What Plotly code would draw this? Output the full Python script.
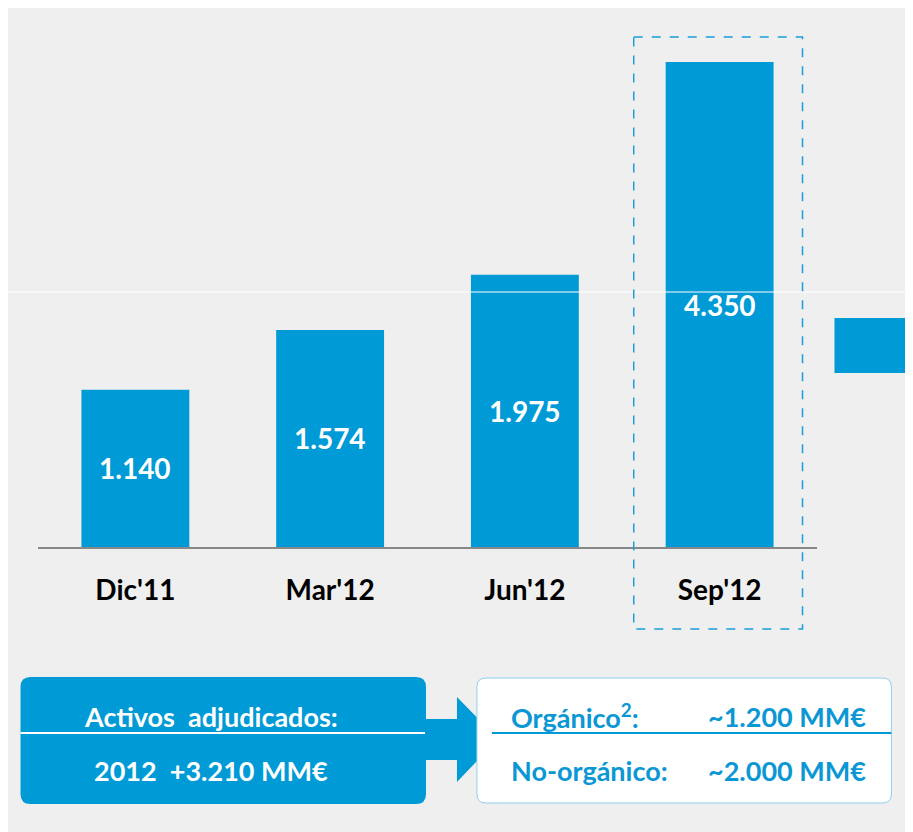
import plotly.graph_objects as go

# Datos
periodos = ["Dic'11", "Mar'12", "Jun'12", "Sep'12"]
valores = [1140, 1574, 1975, 4350]
eje_max = 3517  # eje cortado: la barra de Sep'12 se sale de escala

caja_izq = ["Activos  adjudicados:", "2012  +3.210 MM€"]
caja_der_etiquetas = ["Orgánico<sup>2</sup>:", "No-orgánico:"]
caja_der_valores = ["~1.200 MM€", "~2.000 MM€"]

AZUL = "#009ad6"
GRIS = "#efefef"
FUENTE = "Lato"

# el navegador deja 8 px de margen alrededor de la figura
OFF = 8
# zona del gráfico en píxeles de la página (para convertir a coordenadas 'paper')
L, R, T, B = 37.5, 817.5, 62, 547
W, H = R - L, B - T


def px(x):
    return (x - L) / W


def py(y):
    return (B - y) / H


def rect_redondeado(x0, y0, x1, y1, r):
    pts = [
        ("M", x0 + r, y0), ("L", x1 - r, y0), ("Q", x1, y0, x1, y0 + r),
        ("L", x1, y1 - r), ("Q", x1, y1, x1 - r, y1), ("L", x0 + r, y1),
        ("Q", x0, y1, x0, y1 - r), ("L", x0, y0 + r), ("Q", x0, y0, x0 + r, y0),
    ]
    s = ""
    for p in pts:
        cmd, coords = p[0], p[1:]
        conv = []
        for i in range(0, len(coords), 2):
            conv.append(f"{px(coords[i]):.5f},{py(coords[i + 1]):.5f}")
        s += cmd + " " + " ".join(conv) + " "
    return s + "Z"


def ruta(puntos):
    s = "M " + " L ".join(f"{px(x):.5f},{py(y):.5f}" for x, y in puntos)
    return s + " Z"


fig = go.Figure()

fig.add_trace(go.Bar(
    x=periodos,
    y=valores,
    marker=dict(color=AZUL, line=dict(width=0)),
    cliponaxis=True,
    hoverinfo="skip",
))

shapes = []
# línea blanca horizontal
shapes.append(dict(type="line", xref="paper", yref="paper", layer="above",
                   x0=px(0), x1=px(913), y0=py(292), y1=py(292),
                   line=dict(color="white", width=1)))
# recuadro punteado Sep'12
shapes.append(dict(type="rect", xref="paper", yref="paper",
                   x0=px(634), x1=px(803), y0=py(37), y1=py(629),
                   line=dict(color="#1a9fdb", width=1.5, dash="dash")))
# bloque azul recortado a la derecha
shapes.append(dict(type="rect", xref="paper", yref="paper",
                   x0=px(835), x1=px(913), y0=py(318), y1=py(373),
                   fillcolor=AZUL, line=dict(width=0)))
# caja izquierda
shapes.append(dict(type="path", xref="paper", yref="paper",
                   path=rect_redondeado(20, 677, 426, 804, 10),
                   fillcolor=AZUL, line=dict(width=0)))
shapes.append(dict(type="line", xref="paper", yref="paper",
                   x0=px(20), x1=px(426), y0=py(733), y1=py(733),
                   line=dict(color="white", width=2)))
# flecha
shapes.append(dict(type="path", xref="paper", yref="paper",
                   path=ruta([(425, 719), (457, 719), (457, 697), (498, 739),
                              (457, 782), (457, 760), (425, 760)]),
                   fillcolor=AZUL, line=dict(width=0)))
# caja derecha
shapes.append(dict(type="path", xref="paper", yref="paper",
                   path=rect_redondeado(477, 678, 892, 803, 9),
                   fillcolor="white", line=dict(color="#8fd0ee", width=1)))
shapes.append(dict(type="line", xref="paper", yref="paper",
                   x0=px(492), x1=px(892), y0=py(733), y1=py(733),
                   line=dict(color=AZUL, width=2)))

annotations = []
# etiquetas de valor en el centro de cada barra
for p, v in zip(periodos, valores):
    annotations.append(dict(
        x=p, y=min(v, eje_max) / 2, xref="x", yref="y",
        text=f"{v:,}".replace(",", "."), showarrow=False,
        font=dict(family=FUENTE, size=28, color="white", weight="bold"),
    ))

for i, txt in enumerate(caja_izq):
    annotations.append(dict(
        x=px(211), y=py([716, 770][i]), xref="paper", yref="paper",
        text=txt, showarrow=False, xanchor="center", yanchor="middle",
        font=dict(family=FUENTE, size=27, color="white", weight="bold"),
    ))

for i in range(2):
    yy = py([716, 770][i])
    annotations.append(dict(
        x=px(509), y=yy, xref="paper", yref="paper",
        text=caja_der_etiquetas[i], showarrow=False, xanchor="left", yanchor="middle",
        font=dict(family=FUENTE, size=27, color="#0a97d4", weight="bold"),
    ))
    annotations.append(dict(
        x=px(869), y=yy, xref="paper", yref="paper",
        text=caja_der_valores[i], showarrow=False, xanchor="right", yanchor="middle",
        font=dict(family=FUENTE, size=27, color="#0a97d4", weight="bold"),
    ))

fig.update_layout(
    width=913 - OFF,
    height=832 - OFF,
    margin=dict(l=L - OFF, r=913 - R, t=T - OFF, b=832 - B, pad=0),
    paper_bgcolor=GRIS,
    plot_bgcolor="rgba(0,0,0,0)",
    bargap=0.446,
    showlegend=False,
    shapes=shapes,
    annotations=annotations,
)

fig.update_xaxes(
    range=[-0.5, 3.5],
    showline=True, linecolor="#888888", linewidth=2,
    showgrid=False, zeroline=False,
    ticks="outside", ticklen=17, tickcolor="rgba(0,0,0,0)",
    tickfont=dict(family=FUENTE, size=28, color="black", weight="bold"),
)
fig.update_yaxes(
    range=[0, eje_max],
    visible=False, showgrid=False, zeroline=False,
)

fig.write_html("out.html")
